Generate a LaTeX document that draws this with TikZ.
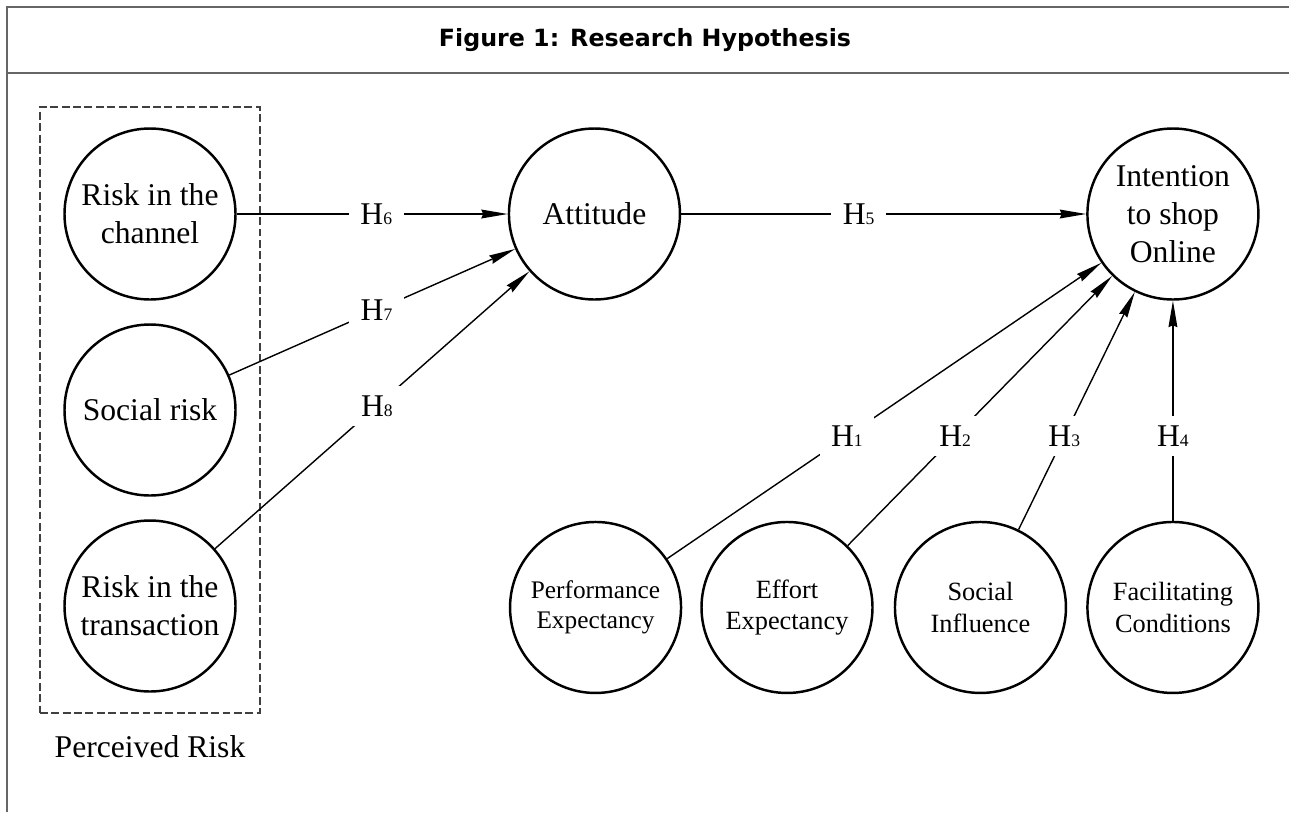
\documentclass[tikz,border=0pt]{standalone}
\usepackage{fontspec}
\setmainfont{Liberation Serif}
\newfontfamily\titlefont{DejaVu Sans}
\usepackage{tikz}
\usetikzlibrary{arrows.meta,positioning,fit}

\newcommand{\hypo}[1]{H{\fontsize{10}{10}\selectfont #1}}

\begin{document}
\begin{tikzpicture}[
      > = {Stealth[length=15pt,width=5pt,inset=1pt]},
      node distance = 3.92cm
    ]
    \tikzstyle{main node} = [circle, draw, line width=1.4pt, minimum size=3.42cm, inner sep=0pt, align=center, font=\fontsize{18}{21.6}\selectfont]
    \tikzstyle{small node} = [main node, font=\fontsize{15}{18}\selectfont]
    \tikzstyle{my line} = [->, line width=0.8pt]
    \tikzstyle{hyp label} = [fill=white, inner xsep=6.5pt, inner ysep=5.5pt, font=\fontsize{18}{18}\selectfont]
    \useasboundingbox (0,0) rectangle (25.78,-16.24);
    % frame and title
    \draw[black!60, line width=1pt] (25.78,-0.14) -- (0.14,-0.14) -- (0.14,-16.24);
    \draw[black!60, line width=1pt] (0.14,-1.46) -- (25.78,-1.46);
    \node (title) at (12.9,-0.8) {\titlefont\bfseries\fontsize{13.5}{15}\selectfont Figure 1: Research Hypothesis};
    % perceived risk
    \node[main node] (channel) at (3,-4.28) {Risk in the\\channel};
    \node[main node] (social) [below of=channel] {Social risk};
    \node[main node] (trans) [below of=social] {Risk in the\\transaction};
    \node[draw=black!75, dash pattern=on 4.5pt off 2pt, line width=1pt, inner xsep=0.47cm, inner ysep=0.4cm, fit=(channel)(trans)] (prbox) {};
    \node (prlabel) [below=0.32cm of prbox, font=\fontsize{18}{21.6}\selectfont] {Perceived Risk};
    % attitude and intention
    \node[main node] (att) [right=5.42cm of channel] {Attitude};
    \node[main node] (intent) [right=8.1cm of att] {Intention\\to shop\\Online};
    % UTAUT constructs
    \node[small node] (facil) [below=4.4cm of intent] {Facilitating\\Conditions};
    \node[small node] (socinf) [left=0.38cm of facil] {Social\\Influence};
    \node[small node] (effort) [left=0.4cm of socinf] {Effort\\Expectancy};
    \node[small node, font=\fontsize{14.4}{17}\selectfont] (perf) [left=0.36cm of effort] {Performance\\Expectancy};
    % hypotheses
    \draw[my line] (channel) -- node[hyp label, pos=0.515] {\hypo{6}} (att);
    \draw[my line] (social) -- node[hyp label, pos=0.515] {\hypo{7}} (att);
    \draw[my line] (trans) -- node[hyp label, pos=0.515] {\hypo{8}} (att);
    \draw[my line] (att) -- node[hyp label, pos=0.438] {\hypo{5}} (intent);
    \draw[my line] (perf) -- node[hyp label, pos=0.414] {\hypo{1}} (intent);
    \draw[my line] (effort) -- node[hyp label, pos=0.406] {\hypo{2}} (intent);
    \draw[my line] (socinf) -- node[hyp label, pos=0.393] {\hypo{3}} (intent);
    \draw[my line] (facil) -- node[hyp label, pos=0.384] {\hypo{4}} (intent);
  \end{tikzpicture}
\end{document}
